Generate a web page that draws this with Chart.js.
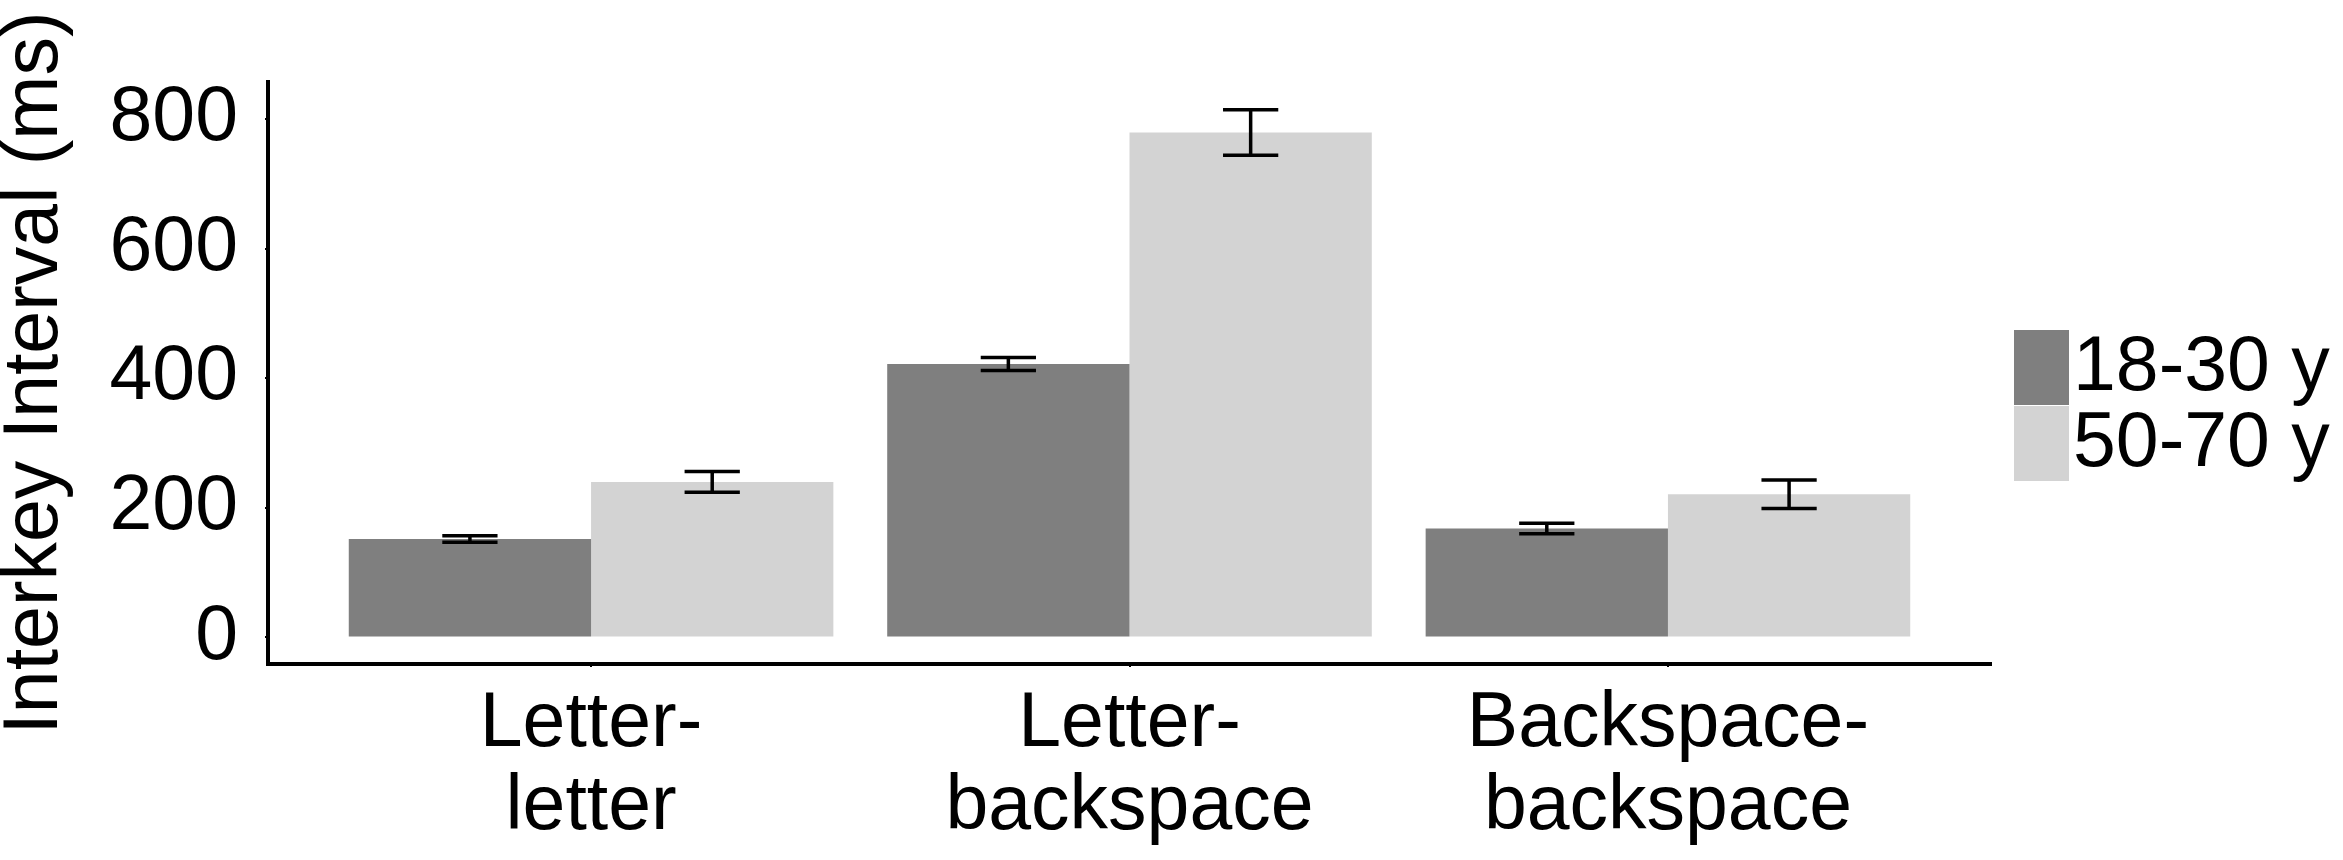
<!DOCTYPE html>
<html>
<head>
<meta charset="utf-8">
<script src="https://cdn.jsdelivr.net/npm/chart.js@4.4.0/dist/chart.umd.min.js"></script>
<style>
  html, body { margin: 0; padding: 0; background: #fff; }
  #wrap { width: 2343px; height: 860px; }
</style>
</head>
<body>
<div id="wrap"><canvas id="chart" width="2343" height="860"></canvas></div>
<script>
// --- data ---
const categories = [['Letter-', 'letter'], ['Letter-', 'backspace'], ['Backspace-', 'backspace']];
const groups = ['18-30 y', '50-70 y'];
const youngMeans = [152, 422, 168];
const youngErrors = [5, 10, 8];
const olderMeans = [240, 779, 221];
const olderErrors = [16, 35, 22];
const yTicks = [0, 200, 400, 600, 800];

const FONT = { family: '"Liberation Sans", Arial, sans-serif', size: 77 };
const DARK = '#7F7F7F';
const LIGHT = '#D3D3D3';

// categories sit at x = 1, 2, 3 on a linear axis (ggplot-style 0.6 expansion)
const toPoints = (vals) => vals.map((v, i) => ({ x: i + 1, y: v }));

// error bars drawn from the bar elements and the y scale
const errorBars = {
    id: 'errorBars',
    afterDatasetsDraw(chart) {
        const { ctx, scales: { y } } = chart;
        ctx.save();
        ctx.strokeStyle = '#000';
        ctx.lineWidth = 3.5;
        chart.data.datasets.forEach((ds, di) => {
            const meta = chart.getDatasetMeta(di);
            meta.data.forEach((bar, i) => {
                const v = ds.data[i].y, e = ds.errors[i];
                const top = y.getPixelForValue(v + e);
                const bot = y.getPixelForValue(v - e);
                const half = bar.width * 0.114;
                ctx.beginPath();
                ctx.moveTo(bar.x - half, top); ctx.lineTo(bar.x + half, top);
                ctx.moveTo(bar.x, top); ctx.lineTo(bar.x, bot);
                ctx.moveTo(bar.x - half, bot); ctx.lineTo(bar.x + half, bot);
                ctx.stroke();
            });
        });
        ctx.restore();
    }
};

// legend: stacked keys right next to their labels
const sideLegend = {
    id: 'sideLegend',
    afterDraw(chart) {
        const { ctx, chartArea } = chart;
        const left = chartArea.right + 23;
        let top = 330;
        ctx.save();
        ctx.font = FONT.size + 'px ' + FONT.family;
        ctx.textBaseline = 'middle';
        ctx.textAlign = 'left';
        chart.data.datasets.forEach(ds => {
            ctx.fillStyle = ds.backgroundColor;
            ctx.fillRect(left, top, 55, 75);
            ctx.fillStyle = '#000';
            ctx.fillText(ds.label, left + 59, top + 39);
            top += 76;
        });
        ctx.restore();
    }
};

new Chart(document.getElementById('chart'), {
    type: 'bar',
    data: {
        datasets: [
            { label: groups[0], data: toPoints(youngMeans), errors: youngErrors, backgroundColor: DARK, borderWidth: 0 },
            { label: groups[1], data: toPoints(olderMeans), errors: olderErrors, backgroundColor: LIGHT, borderWidth: 0 }
        ]
    },
    options: {
        responsive: false,
        devicePixelRatio: 1,
        animation: false,
        categoryPercentage: 0.9,
        barPercentage: 1.0,
        layout: { padding: { top: 82, right: 352, bottom: 0, left: 0 } },
        plugins: { legend: { display: false }, tooltip: { enabled: false } },
        scales: {
            x: {
                type: 'linear',
                offset: false,
                min: 0.4,
                max: 3.6,
                afterBuildTicks: s => { s.ticks = categories.map((c, i) => ({ value: i + 1 })); },
                afterFit: s => { s.height = 196; },
                ticks: {
                    callback: (v, i) => categories[i],
                    font: { ...FONT, lineHeight: 1.07 },
                    color: '#000',
                    padding: 17,
                    maxRotation: 0,
                    autoSkip: false
                },
                grid: { offset: false, drawOnChartArea: false, drawTicks: true, tickLength: 3, color: '#000', lineWidth: 2 },
                border: { display: true, color: '#000', width: 4 }
            },
            y: {
                min: -41,
                max: 857,
                afterBuildTicks: s => { s.ticks = yTicks.map(v => ({ value: v })); },
                afterFit: s => { s.width = 268; },
                ticks: { font: FONT, color: '#000', padding: 27 },
                grid: { drawOnChartArea: false, drawTicks: true, tickLength: 3, color: '#000', lineWidth: 2 },
                border: { display: true, color: '#000', width: 4 },
                title: {
                    display: true,
                    text: 'Interkey Interval (ms)',
                    font: { ...FONT, lineHeight: 0.94 },
                    color: '#000',
                    padding: 0
                }
            }
        }
    },
    plugins: [errorBars, sideLegend]
});
</script>
</body>
</html>
